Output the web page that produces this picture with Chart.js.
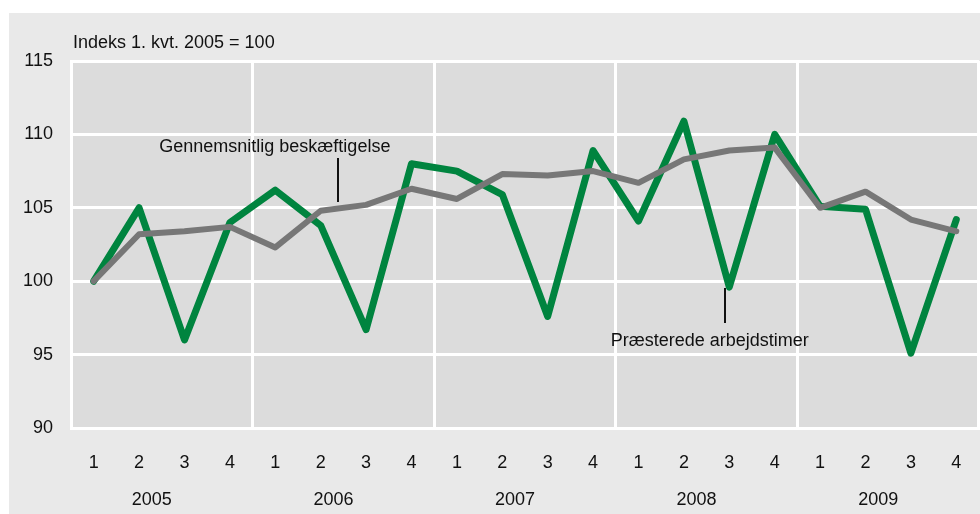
<!DOCTYPE html>
<html><head><meta charset="utf-8">
<script src="https://cdn.jsdelivr.net/npm/chart.js@4"></script>
<style>
html,body{margin:0;padding:0;background:#fff;}
#wrap{position:absolute;left:9px;top:13px;width:971px;height:501px;background:#e9e9e9;}
canvas{display:block;}
</style></head><body>
<div id="wrap"><canvas id="c" width="971" height="501"></canvas></div>
<script>
const quarters = ['1','2','3','4','1','2','3','4','1','2','3','4','1','2','3','4','1','2','3','4'];
const years = ['2005','2006','2007','2008','2009'];
const arbejdstimer = [100, 105.0, 96.0, 104.0, 106.2, 103.8, 96.7, 108.0, 107.5, 105.9, 97.6, 108.9, 104.1, 110.9, 99.6, 110.0, 105.1, 104.9, 95.1, 104.2];
const beskaeftigelse = [100, 103.2, 103.4, 103.7, 102.3, 104.8, 105.2, 106.3, 105.6, 107.3, 107.2, 107.5, 106.7, 108.3, 108.9, 109.1, 105.0, 106.1, 104.2, 103.4];
const yTicks = [90, 95, 100, 105, 110, 115];
const yTitle = 'Indeks 1. kvt. 2005 = 100';
const nameArbejdstimer = 'Præsterede arbejdstimer';
const nameBeskaeftigelse = 'Gennemsnitlig beskæftigelse';

const FONT = '"Liberation Sans", Arial, sans-serif';
const annotations = [
  {text: nameBeskaeftigelse, tx: 3.99, ty: 109.14, lx: 5.38, ly1: 108.4, ly2: 105.4},
  {text: nameArbejdstimer, tx: 13.57, ty: 95.93, lx: 13.9, ly1: 99.54, ly2: 97.15}
];

const decor = {
  id: 'decor',
  beforeDraw(chart) {
    const {ctx, chartArea: a} = chart;
    ctx.save();
    ctx.fillStyle = '#dcdcdc';
    ctx.fillRect(a.left, a.top, a.right - a.left, a.bottom - a.top);
    ctx.restore();
  },
  afterDraw(chart) {
    const {ctx, scales: {x, y}} = chart;
    ctx.save();
    ctx.font = '18px ' + FONT;
    ctx.fillStyle = '#111';
    ctx.textBaseline = 'middle';
    ctx.textAlign = 'left';
    ctx.fillText(yTitle, x.left + 2, 30);
    ctx.textAlign = 'center';
    years.forEach((yr, i) => {
      const cx = (x.getPixelForValue(i * 4 + 1) + x.getPixelForValue(i * 4 + 2)) / 2 - 10;
      ctx.fillText(yr, cx, 487);
    });
    annotations.forEach(an => {
      ctx.fillText(an.text, x.getPixelForValue(an.tx), y.getPixelForValue(an.ty));
      ctx.beginPath();
      ctx.strokeStyle = '#111';
      ctx.lineWidth = 2;
      const lx = Math.round(x.getPixelForValue(an.lx));
      ctx.moveTo(lx, y.getPixelForValue(an.ly1));
      ctx.lineTo(lx, y.getPixelForValue(an.ly2));
      ctx.stroke();
    });
    ctx.restore();
  }
};

new Chart(document.getElementById('c'), {
  type: 'line',
  data: {
    labels: quarters,
    datasets: [
      {label: nameBeskaeftigelse, data: beskaeftigelse, borderColor: '#777777', borderWidth: 6,
       pointRadius: 0, tension: 0, borderJoinStyle: 'round', borderCapStyle: 'round', order: 0},
      {label: nameArbejdstimer, data: arbejdstimer, borderColor: '#00843f', borderWidth: 7,
       pointRadius: 0, tension: 0, borderJoinStyle: 'round', borderCapStyle: 'round', order: 1}
    ]
  },
  options: {
    responsive: false,
    animation: false,
    devicePixelRatio: 1,
    layout: {autoPadding: false, padding: {top: 48, right: 1, left: 0, bottom: 0}},
    plugins: {legend: {display: false}, tooltip: {enabled: false}, title: {display: false}},
    scales: {
      x: {
        offset: true,
        grid: {
          offset: true, drawTicks: true, tickLength: 24, tickColor: 'rgba(0,0,0,0)', lineWidth: 3,
          color: c => (c.index === undefined || c.index % 4 === 0) ? '#ffffff' : 'rgba(0,0,0,0)'
        },
        border: {display: true, color: '#ffffff', width: 3},
        ticks: {font: {family: FONT, size: 18}, color: '#111', padding: 0, maxRotation: 0, autoSkip: false},
        afterFit: s => { s.height = 86; }
      },
      y: {
        min: 90, max: 115,
        afterBuildTicks: s => { s.ticks = yTicks.map(v => ({value: v})); },
        grid: {drawTicks: false, color: '#ffffff', lineWidth: 3},
        border: {display: true, color: '#ffffff', width: 3},
        ticks: {font: {family: FONT, size: 18}, color: '#111', padding: 18},
        afterFit: s => { s.width = 62; }
      }
    }
  },
  plugins: [decor]
});
</script>
</body></html>
